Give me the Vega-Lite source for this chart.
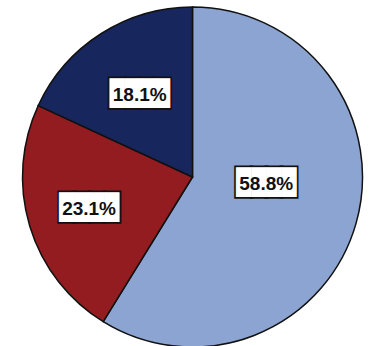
{
  "$schema": "https://vega.github.io/schema/vega-lite/v6.json",
  "autosize": {"type": "fit", "contains": "padding"},
  "width": 371,
  "height": 346,
  "padding": {"left": 14, "right": 0, "top": 8, "bottom": 0},
  "background": "white",
  "config": {"view": {"stroke": null}},
  "data": {"values": [
    {"cat": "A", "share": 58.8, "label": "58.8%", "order": 1},
    {"cat": "B", "share": 23.1, "label": "23.1%", "order": 2},
    {"cat": "C", "share": 18.1, "label": "18.1%", "order": 3}
  ]},
  "encoding": {
    "theta": {"field": "share", "type": "quantitative", "stack": true},
    "order": {"field": "order", "type": "quantitative"}
  },
  "layer": [
    {
      "mark": {"type": "arc", "outerRadius": 170, "stroke": "#111111", "strokeWidth": 1.5},
      "encoding": {
        "color": {"field": "cat", "type": "nominal", "legend": null,
          "scale": {"domain": ["A", "B", "C"], "range": ["#8ca4d2", "#921c20", "#18265e"]}}
      }
    },
    {
      "mark": {"type": "text", "font": "DejaVu Sans Mono", "fontSize": 25, "color": "#111111", "stroke": "#111111", "strokeWidth": 3.5, "baseline": "middle", "text": "████",
        "radius": {"expr": "datum.cat === 'A' ? 74 : datum.cat === 'B' ? 108 : 98"},
        "thetaOffset": {"expr": "datum.cat === 'A' ? -0.19 : 0"}}
    },
    {
      "mark": {"type": "text", "font": "DejaVu Sans Mono", "fontSize": 25, "color": "white", "baseline": "middle", "text": "████",
        "radius": {"expr": "datum.cat === 'A' ? 74 : datum.cat === 'B' ? 108 : 98"},
        "thetaOffset": {"expr": "datum.cat === 'A' ? -0.19 : 0"}}
    },
    {
      "mark": {"type": "text", "font": "Liberation Sans", "fontSize": 19, "fontWeight": "bold", "color": "#111111", "baseline": "middle", "dy": 1,
        "radius": {"expr": "datum.cat === 'A' ? 74 : datum.cat === 'B' ? 108 : 98"},
        "thetaOffset": {"expr": "datum.cat === 'A' ? -0.19 : 0"}},
      "encoding": {"text": {"field": "label"}}
    }
  ]
}
